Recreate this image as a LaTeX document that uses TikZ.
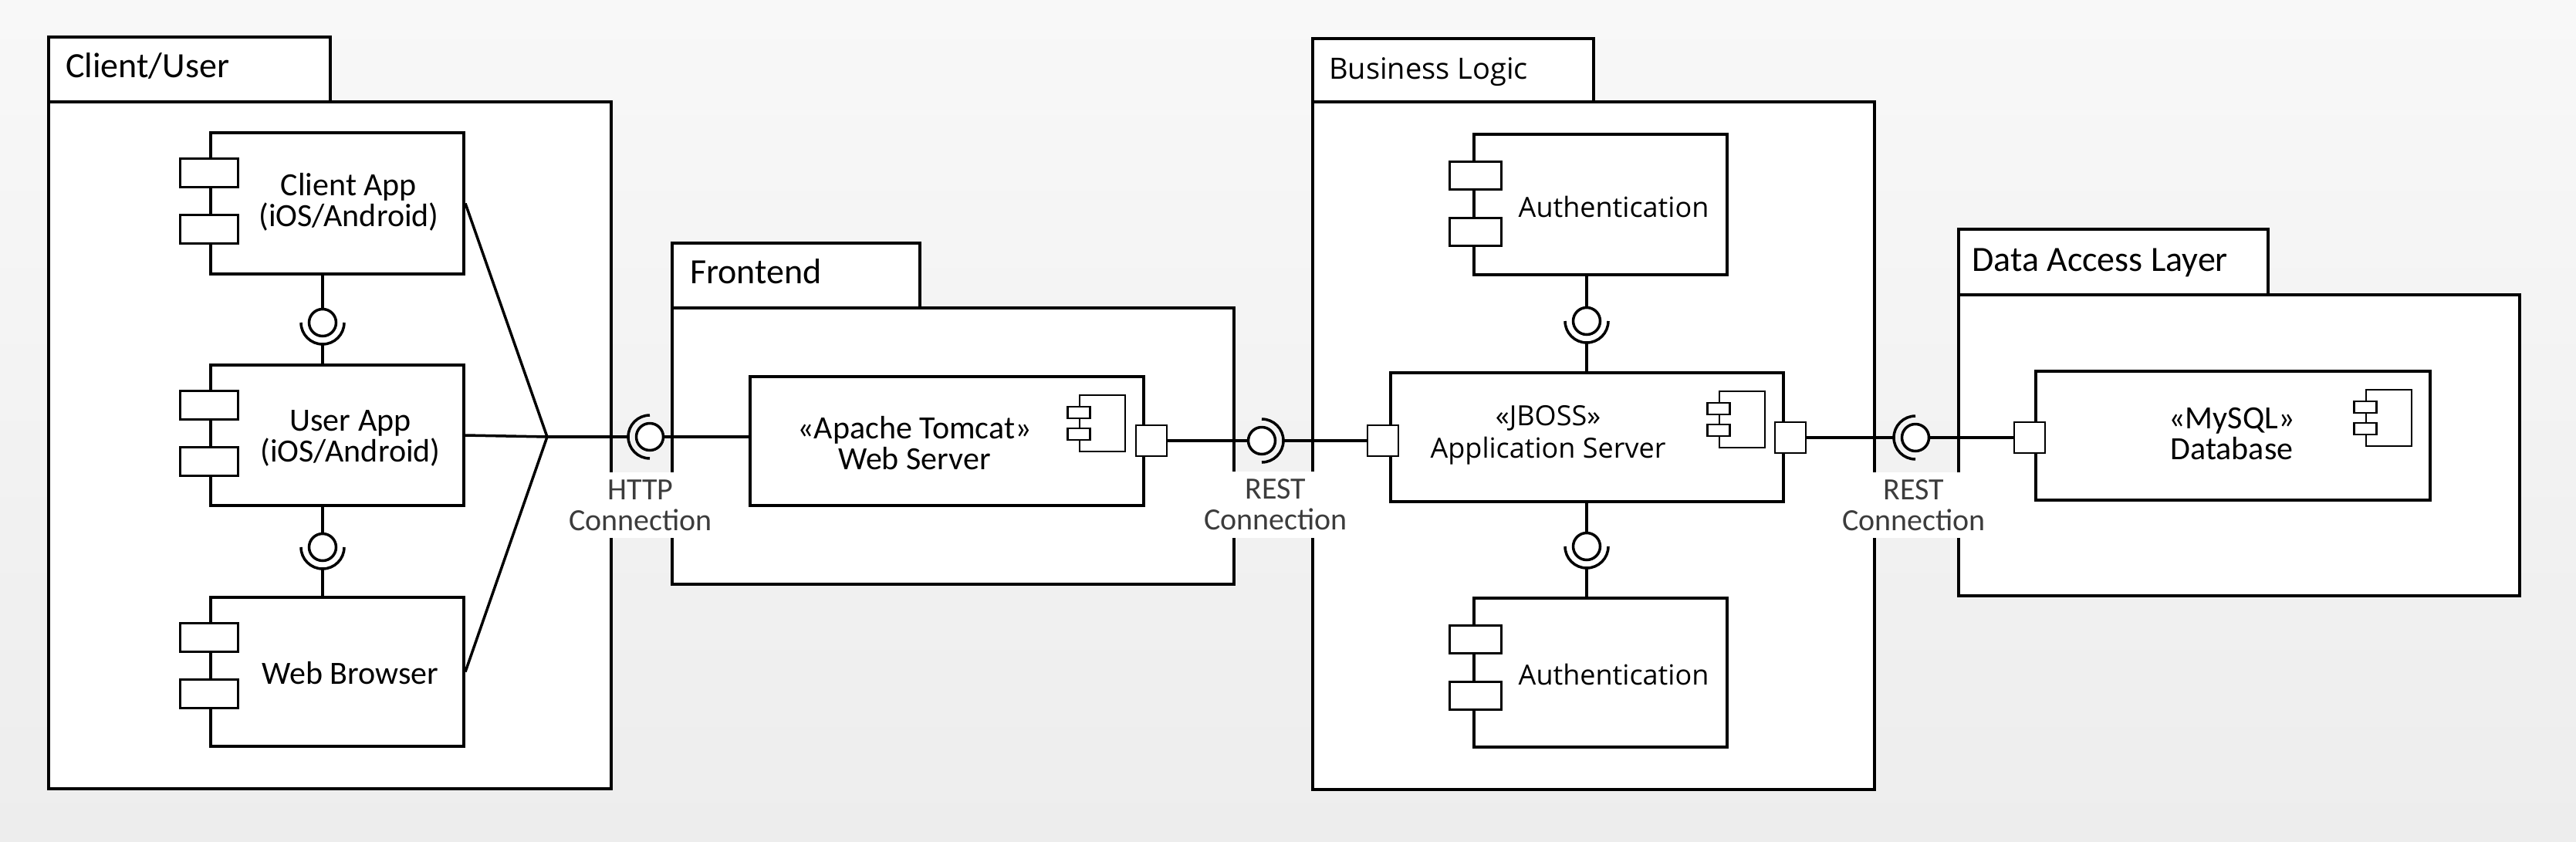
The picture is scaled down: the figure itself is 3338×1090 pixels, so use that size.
\documentclass[tikz,border=0pt]{standalone}
\usepackage{fontspec}
\setmainfont{Carlito}
\newfontfamily\widefont{Open Sans}
\usetikzlibrary{calc}
\definecolor{lblgray}{HTML}{3C3C3C}
\definecolor{bgtop}{HTML}{F8F8F8}
\definecolor{bgbot}{HTML}{EDEDED}
\begin{document}
\begin{tikzpicture}[x=1pt,y=-1pt,
  pkgbox/.style={draw, line width=4, fill=white, inner sep=0, outer sep=0},
  compbox/.style={draw, line width=4, fill=white, inner sep=0, minimum width=328},
  tinybox/.style={draw, line width=3.5, fill=white, inner sep=0, minimum width=75, minimum height=37},
  authtiny/.style={draw, line width=3, fill=white, inner sep=0, minimum width=67, minimum height=36},
  srvbox/.style={draw, line width=4, fill=white, inner sep=0, minimum height=167},
  portbox/.style={draw, line width=2.5, fill=white, inner sep=0, minimum size=40},
  iconbig/.style={draw, line width=2.5, fill=white, inner sep=0, minimum width=59, minimum height=73},
  iconsmall/.style={draw, line width=2.5, fill=white, inner sep=0, minimum width=29, minimum height=15},
  conn/.style={line width=3.5},
  ballnode/.style={circle, draw, line width=3.5, fill=white, inner sep=0, minimum size=35},
  sock/.style={line width=3.5},
  pkgtitle/.style={anchor=base west, inner sep=0, font=\fontsize{46}{50}\selectfont},
  ctext/.style={align=center, inner sep=0, font=\fontsize{42}{40}\selectfont},
  wtext/.style={align=center, inner sep=0, font=\widefont\fontsize{36}{42}\selectfont},
  lbl/.style={align=center, fill=white, text=lblgray, inner xsep=4, inner ysep=9.5, font=\fontsize{40}{40}\selectfont},
]
% background
\fill[top color=bgtop, bottom color=bgbot] (0,0) rectangle (3338,1090);

% packages
\node[pkgbox, minimum width=365, minimum height=84] (cutab) at (245.5,90) {};
\node[pkgbox, minimum width=729, minimum height=890] (cubody) at (427.5,577) {};
\node[pkgtitle] (cutitle) at (85,100) {Client/User};

\node[pkgbox, minimum width=321, minimum height=84] (fetab) at (1031.5,357) {};
\node[pkgbox, minimum width=728, minimum height=358] (febody) at (1235,578) {};
\node[pkgtitle] (fetitle) at (894,367) {Frontend};

\node[pkgbox, minimum width=364, minimum height=82] (bltab) at (1883,91) {};
\node[pkgbox, minimum width=728, minimum height=891] (blbody) at (2065,577.5) {};
\node[pkgtitle, font=\widefont\fontsize{38}{44}\selectfont] (bltitle) at (1722,102) {Business Logic};

\node[pkgbox, minimum width=401, minimum height=85] (daltab) at (2738.5,339.5) {};
\node[pkgbox, minimum width=727, minimum height=390] (dalbody) at (2901.5,577) {};
\node[pkgtitle] (daltitle) at (2555,351) {Data Access Layer};

% labels (cover package borders)
\node[lbl] (httpl) at (830,654.5) {HTTP\\Connection};
\node[lbl] (rest1l) at (1653,654) {REST\\Connection};
\node[lbl] (rest2l) at (2480,654.5) {REST\\Connection};

% client components
\node[compbox, minimum height=183] (clientapp) at (437,263.5) {};
\node[compbox, minimum height=182] (userapp) at (437,564) {};
\node[compbox, minimum height=193] (webbrowser) at (437,870.5) {};
\foreach \b in {clientapp,userapp,webbrowser}{
  \node[tinybox] (\b-p1) at ($(\b.north west)+(0,54)$) {};
  \node[tinybox] (\b-p2) at ($(\b.north west)+(0,127)$) {};
}
\node[ctext] (clientapp-t) at (452,262) {Client App\\(iOS/Android)};
\node[ctext] (userapp-t) at (454,568) {User App\\(iOS/Android)};
\node[ctext] (webbrowser-t) at (454,872) {Web Browser};

% servers
\node[srvbox, minimum width=510] (webserver) at (1227,571.5) {};
\node[srvbox, minimum width=509] (jboss) at (2056.5,566.5) {};
\node[srvbox, minimum width=511] (db) at (2893.5,564.5) {};
\foreach \b in {webserver,jboss,db}{
  \node[iconbig] (\b-icon) at ($(\b.north east)+(-55.5,62.5)$) {};
  \node[iconsmall] (\b-i1) at ($(\b-icon.west)+(0,-14)$) {};
  \node[iconsmall] (\b-i2) at ($(\b-icon.west)+(0,14)$) {};
}
\node[ctext] (webserver-t) at (1185,574) {«Apache Tomcat»\\Web Server};
\node[wtext] (jboss-t) at (2006,564) {«JBOSS»\\Application Server};
\node[ctext] (db-t) at (2892,562) {«MySQL»\\Database};

% authentication components
\node[compbox, minimum height=182] (auth1) at (2074,265) {};
\node[compbox, minimum height=193] (auth2) at (2074,871.5) {};
\foreach \b in {auth1,auth2}{
  \node[authtiny] (\b-p1) at ($(\b.north west)+(3.5,55)$) {};
  \node[authtiny] (\b-p2) at ($(\b.north west)+(3.5,128)$) {};
}
\node[wtext] (auth1-t) at (2091,268) {Authentication};
\node[wtext] (auth2-t) at (2091,874) {Authentication};

% interface centres
\coordinate (ci1) at (418,418);
\coordinate (ci2) at (418,709);
\coordinate (bi1) at (2056,416);
\coordinate (bi2) at (2056,708);
\coordinate (hc) at (842,566);
\coordinate (rc1) at (1635,571);
\coordinate (rc2) at (2482,567);
\coordinate (fan) at (709,566);

% vertical assembly connectors
\draw[conn] (clientapp.south -| ci1) -- (ci1);
\draw[conn] ($(ci1)+(0,28)$) -- (userapp.north -| ci1);
\draw[conn] (userapp.south -| ci2) -- (ci2);
\draw[conn] ($(ci2)+(0,28)$) -- (webbrowser.north -| ci2);
\draw[conn] (auth1.south -| bi1) -- (bi1);
\draw[conn] ($(bi1)+(0,28)$) -- (jboss.north -| bi1);
\draw[conn] (jboss.south -| bi2) -- (bi2);
\draw[conn] ($(bi2)+(0,28)$) -- (auth2.north -| bi2);

% fan to HTTP
\draw[conn] (clientapp.east) -- (fan);
\draw[conn] (userapp.east) -- (fan);
\draw[conn] (webbrowser.east) -- (fan);
\draw[conn] (fan) -- ($(hc)+(-28,0)$);
\draw[conn] (hc) -- (webserver.west |- hc);

% ports
\node[portbox] (wsport) at (1492,571) {};
\node[portbox] (jportl) at (1792,571) {};
\node[portbox] (jportr) at (2320,567) {};
\node[portbox] (dbport) at (2630,567) {};

% REST connectors
\draw[conn] (wsport.east) -- (rc1);
\draw[conn] ($(rc1)+(28,0)$) -- (jportl.west);
\draw[conn] (jportr.east) -- ($(rc2)+(-28,0)$);
\draw[conn] (rc2) -- (dbport.west);

% sockets
\draw[sock] ($(ci1)+(-28,0)$) arc[start angle=180,end angle=360,radius=28pt];
\draw[sock] ($(ci2)+(-28,0)$) arc[start angle=180,end angle=360,radius=28pt];
\draw[sock] ($(bi1)+(-28,0)$) arc[start angle=180,end angle=360,radius=28pt];
\draw[sock] ($(bi2)+(-28,0)$) arc[start angle=180,end angle=360,radius=28pt];
\draw[sock] ($(hc)+(0,-28)$) arc[start angle=90,end angle=270,radius=28pt];
\draw[sock] ($(rc1)+(0,-28)$) arc[start angle=90,end angle=-90,radius=28pt];
\draw[sock] ($(rc2)+(0,-28)$) arc[start angle=90,end angle=270,radius=28pt];

% balls
\node[ballnode] (ci1-ball) at (ci1) {};
\node[ballnode] (ci2-ball) at (ci2) {};
\node[ballnode] (bi1-ball) at (bi1) {};
\node[ballnode] (bi2-ball) at (bi2) {};
\node[ballnode] (hc-ball) at (hc) {};
\node[ballnode] (rc1-ball) at (rc1) {};
\node[ballnode] (rc2-ball) at (rc2) {};
\end{tikzpicture}
\end{document}
